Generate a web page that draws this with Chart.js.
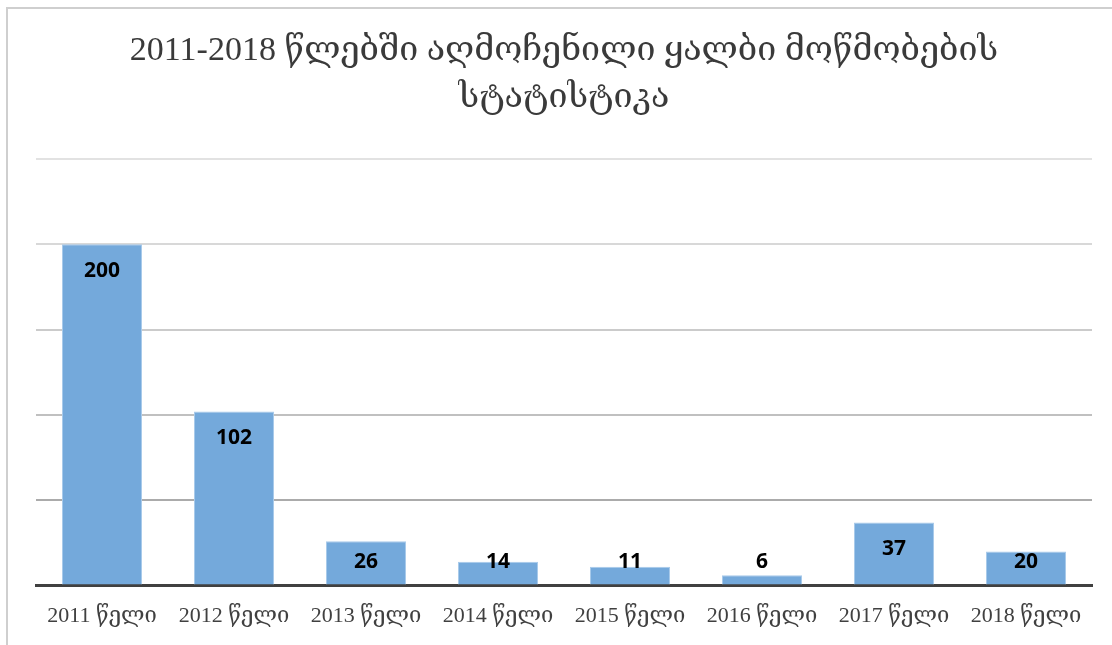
<!DOCTYPE html>
<html>
<head>
<meta charset="utf-8">
<script src="https://cdn.jsdelivr.net/npm/chart.js@4"></script>
<style>
  html, body { margin: 0; padding: 0; background: #fff; }
  #wrap { position: relative; width: 1112px; height: 645px; overflow: hidden; }
  #frame { position: absolute; left: 6px; top: 7px; width: 1200px; height: 700px;
           border-left: 2px solid #cfcfcf; border-top: 2px solid #cfcfcf; }
  canvas { position: absolute; left: 0; top: 0; }
</style>
</head>
<body>
<div id="wrap">
  <div id="frame"></div>
  <canvas id="chart" width="1112" height="645"></canvas>
</div>
<script>
// მონაცემები
const titleLines = ['2011-2018 წლებში აღმოჩენილი ყალბი მოწმობების', 'სტატისტიკა'];
const years = ['2011 წელი', '2012 წელი', '2013 წელი', '2014 წელი', '2015 წელი', '2016 წელი', '2017 წელი', '2018 წელი'];
const fakeCount = [200, 102, 26, 14, 11, 6, 37, 20];
const yTicks = [0, 50, 100, 150, 200, 250];

const serif = "'Liberation Serif', 'DejaVu Serif', serif";

// ბადის ხაზების ფერი (ქვემოთ უფრო მუქი)
const gridColors = { 250: '#e2e2e2', 200: '#d8d8d8', 150: '#cbcbcb', 100: '#c0c0c0', 50: '#ababab', 0: 'rgba(0,0,0,0)' };

/** მნიშვნელობის წარწერები სვეტის ზედა ნაწილში */
const barLabels = {
  id: 'barLabels',
  afterDatasetsDraw(chart) {
    const { ctx } = chart;
    const meta = chart.getDatasetMeta(0);
    ctx.save();
    ctx.font = "bold 21px 'Open Sans', sans-serif";
    ctx.fillStyle = '#000';
    ctx.textAlign = 'center';
    ctx.textBaseline = 'middle';
    meta.data.forEach((bar, i) => {
      const y = Math.min(bar.y + 27, bar.base - 23);
      ctx.fillText(String(fakeCount[i]), bar.x, y);
    });
    ctx.restore();
  },
};

new Chart(document.getElementById('chart'), {
  type: 'bar',
  data: {
    labels: years,
    datasets: [{
      data: fakeCount,
      backgroundColor: '#74a9db',
      borderColor: '#a8caea',
      borderWidth: 1,
      categoryPercentage: 1,
      barPercentage: 0.606,
    }],
  },
  options: {
    responsive: false,
    animation: false,
    layout: { padding: { left: 36, right: 20, top: 0, bottom: 7 } },
    plugins: {
      legend: { display: false },
      tooltip: { enabled: false },
      title: {
        display: true,
        text: titleLines,
        color: '#3a3a3a',
        font: { family: serif, size: 34, weight: 'normal', lineHeight: 1.38 },
        padding: { top: 28, bottom: 37 },
      },
    },
    scales: {
      x: {
        grid: { display: false },
        border: { display: true, color: '#404040', width: 3 },
        ticks: { color: '#404040', font: { family: serif, size: 22 }, padding: 9, maxRotation: 0, autoSkip: false },
      },
      y: {
        min: yTicks[0],
        max: yTicks[yTicks.length - 1],
        afterBuildTicks(scale) { scale.ticks = yTicks.map((v) => ({ value: v })); },
        afterFit(scale) { scale.width = 0; },
        ticks: { display: false },
        border: { display: false },
        grid: {
          drawTicks: false,
          lineWidth: 2,
          color: (c) => gridColors[c.tick.value] || '#d9d9d9',
        },
      },
    },
  },
  plugins: [barLabels],
});
</script>
</body>
</html>
